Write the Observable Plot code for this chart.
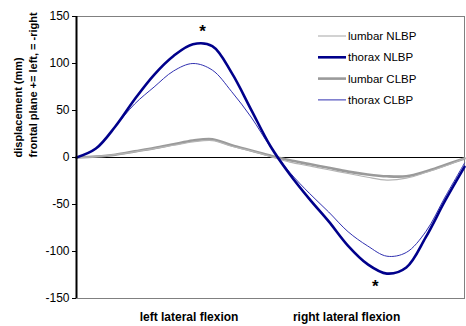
<!DOCTYPE html>
<html><head><meta charset="utf-8">
<script src="https://cdn.jsdelivr.net/npm/d3@7"></script>
<script src="https://cdn.jsdelivr.net/npm/@observablehq/plot@0.6"></script>
<style>body{margin:0;background:#fff;font-family:"Liberation Sans",Arial,sans-serif}</style>
</head><body><div id="chart"></div>
<script>
const t = [0,5,10,15,20,25,30,35,40,45,50,55,60,65,70,75,80,85,90,95,100];
const lumbarNLBP = [0,1,3,6,9.5,13,16.5,18,12,7,1,-5,-9,-13,-17,-21,-24,-22,-16,-9,-1];
const thoraxNLBP = [0,9.5,33,62,88,108,120.5,118.5,90,51,12,-18,-44,-68,-94,-113.5,-123.5,-117,-85,-46,-10];
const lumbarCLBP = [0,1,3,6.5,10,14,18,19.5,13,7.5,2,-3,-7,-11,-15,-18,-20,-20,-15,-8,-1];
const thoraxCLBP = [0,9.5,33,57,75,92,100,93,70,43,11,-16,-38,-58,-79,-94,-105,-101,-79,-42,-6];
const seriesNames = ["lumbar NLBP","thorax NLBP","lumbar CLBP","thorax CLBP"];
const seriesValues = [lumbarNLBP, thoraxNLBP, lumbarCLBP, thoraxCLBP];
const seriesColor = ["#b4b4b4","#00008b","#9a9a9a","#3030b0"];
const seriesWidth = [1.2, 2.6, 2.6, 1];
const yTicks = [-150,-100,-50,0,50,100,150];
const xLabels = ["left lateral flexion","right lateral flexion"];
const xLabelAt = [29, 69.6];
const stars = [{x:32.5, y:134},{x:77, y:-137}];
const yTitle = ["displacement (mm)","frontal plane += left, = -right"];

const rows = [];
seriesValues.forEach((vals, s) => vals.forEach((v, i) => rows.push({s, x: t[i], y: v})));
const drawOrder = [2,0,3,1];

const W = 466, H = 326, mL = 76, mR = 2, mT = 16, mB = 28;
const chart = Plot.plot({
  width: W, height: H,
  marginLeft: mL, marginRight: mR, marginTop: mT, marginBottom: mB,
  style: {fontFamily: '"Liberation Sans", Arial, sans-serif', fontSize: "12px", color: "#000", background: "#fff"},
  x: {domain: [0, 100], axis: null},
  y: {domain: [-150, 150], axis: null},
  marks: [
    Plot.frame({stroke: "#808080", strokeWidth: 1}),
    Plot.ruleY([0], {stroke: "#000", strokeWidth: 1}),
    ...drawOrder.map(s => Plot.line(rows.filter(r => r.s === s), {
      x: "x", y: "y", stroke: seriesColor[s], strokeWidth: seriesWidth[s], curve: "catmull-rom"
    })),
    Plot.ruleX([0], {stroke: "#000", strokeWidth: 2}),
    Plot.axisY({ticks: yTicks, tickSize: 4, tickPadding: 3, label: null, stroke: "#000", fontSize: 12, tickFormat: d => d}),
    Plot.text(stars, {x: "x", y: "y", text: () => "*", fontSize: 17, fontWeight: "bold", fill: "#000"}),
    Plot.text(xLabels, {x: (d, i) => xLabelAt[i], text: d => d, frameAnchor: "bottom", dy: 22, fontWeight: "bold", fontSize: 12, letterSpacing: 0.3}),
    Plot.text([yTitle[0]], {text: d => d, frameAnchor: "left", dx: -58, rotate: -90, fontWeight: "bold", fontSize: 11, letterSpacing: 0.6}),
    Plot.text([yTitle[1]], {text: d => d, frameAnchor: "left", dx: -43, rotate: -90, fontWeight: "bold", fontSize: 11})
  ]
});
document.getElementById("chart").appendChild(chart);

// legend
const svg = d3.select(chart);
const lg = svg.append("g").attr("transform", "translate(318,36)");
seriesNames.forEach((name, i) => {
  const g = lg.append("g").attr("transform", `translate(0,${i * 21.3})`);
  g.append("line").attr("x1", 0).attr("x2", 28).attr("y1", 0).attr("y2", 0)
    .attr("stroke", seriesColor[i]).attr("stroke-width", seriesWidth[i]);
  g.append("text").attr("x", 30).attr("y", 0).attr("dy", "0.35em")
    .attr("text-anchor", "start")
    .attr("font-size", 11.5).attr("fill", "#000").text(name);
});
</script>
</body></html>
